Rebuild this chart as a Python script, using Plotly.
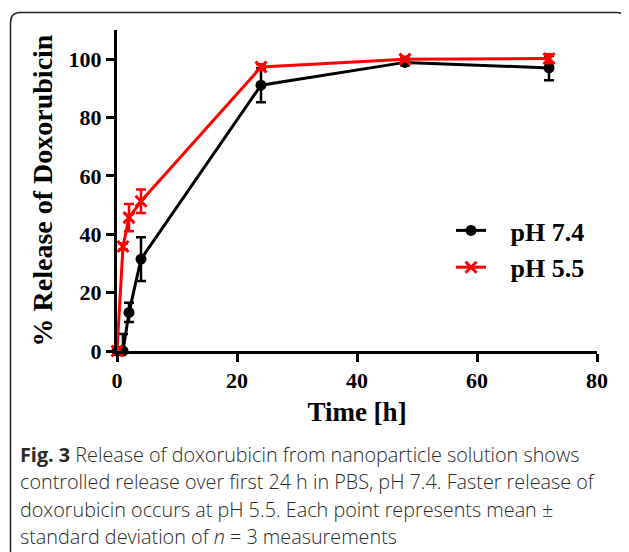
import plotly.graph_objects as go

# Data
time_h = [0, 1, 2, 4, 24, 48, 72]
ph74_mean = [0, 0, 13.2, 31.5, 91.1, 98.9, 97.0]
ph74_sd = [0, 5.8, 3.3, 7.5, 5.9, 1.0, 4.2]
ph55_mean = [0, 35.8, 45.7, 51.3, 97.3, 100.0, 100.2]
ph55_sd = [0, 1.0, 4.7, 4.0, 1.0, 0.8, 1.5]
series_names = ["pH 7.4", "pH 5.5"]
x_ticks = [0, 20, 40, 60, 80]
y_ticks = [0, 20, 40, 60, 80, 100]

caption_lines = [
    "<b>Fig. 3</b> Release of doxorubicin from nanoparticle solution shows",
    "controlled release over first 24 h in PBS, pH 7.4. Faster release of",
    "doxorubicin occurs at pH 5.5. Each point represents mean ±",
    "standard deviation of <i>n</i> = 3 measurements",
]

# page body has an 8px margin: work in window pixels, shift into figure pixels
OFF = 8
W, H = 629 - OFF, 552 - OFF
L, T = 117 - OFF, 30 - OFF
R = W - (597 - OFF)
B = H - (351 - OFF)
pw, ph = W - L - R, H - T - B

def px(x):
    return (x - OFF - L) / pw

def py(y):
    return (H - B - (y - OFF)) / ph

serif = "Liberation Serif, Times New Roman, serif"
pad = "\u00a0\u00a0\u00a0"

fig = go.Figure()
fig.add_trace(go.Scatter(
    x=time_h, y=ph74_mean, name=pad + series_names[0], mode="lines+markers",
    line=dict(color="black", width=3),
    marker=dict(symbol="circle", size=11, color="black"),
    error_y=dict(type="data", array=ph74_sd, visible=True, color="black", thickness=2.5, width=5),
    cliponaxis=False,
))
fig.add_trace(go.Scatter(
    x=time_h, y=ph55_mean, name=pad + series_names[1], mode="lines+markers",
    line=dict(color="#ff0000", width=3),
    marker=dict(symbol="x-thin", size=11, color="#ff0000", line=dict(color="#ff0000", width=3)),
    error_y=dict(type="data", array=ph55_sd, visible=True, color="#ff0000", thickness=2.5, width=5),
    cliponaxis=False,
))

fig.update_xaxes(
    range=[0, 80], tickvals=x_ticks, showgrid=False, zeroline=False,
    showline=True, linecolor="black", linewidth=3, ticks="outside", ticklen=8, tickwidth=3,
    tickcolor="black", tickfont=dict(family=serif, size=22, color="black", weight="bold"),
    title=dict(text="<b>Time [h]</b>", font=dict(family=serif, size=27, color="black"), standoff=10),
    automargin=False,
)
fig.update_yaxes(
    range=[0, 110], tickvals=y_ticks, showgrid=False, zeroline=False,
    showline=True, linecolor="black", linewidth=3, ticks="outside", ticklen=8, tickwidth=3,
    tickcolor="black", tickfont=dict(family=serif, size=22, color="black", weight="bold"),
    title=dict(text="<b>% Release of Doxorubicin</b>", font=dict(family=serif, size=28, color="black"), standoff=8),
    automargin=False,
)

# rounded frame
r = 10
x0, x1, y0, y1 = 10.5, 626.5, 12.5, 570
path = (f"M {px(x0)},{py(y1)} L {px(x0)},{py(y0 + r)} "
        f"Q {px(x0)},{py(y0)} {px(x0 + r)},{py(y0)} "
        f"L {px(x1 - r)},{py(y0)} Q {px(x1)},{py(y0)} {px(x1)},{py(y0 + r)} "
        f"L {px(x1)},{py(y1)}")
fig.add_shape(type="path", path=path, xref="paper", yref="paper",
              line=dict(color="#222222", width=1.5), layer="below")

for i, line in enumerate(caption_lines):
    fig.add_annotation(
        text=line, xref="paper", yref="paper", x=px(18), y=py(454 + i * 27.5),
        xanchor="left", yanchor="middle", showarrow=False, align="left",
        font=dict(family="Open Sans, sans-serif", size=19.8, color="#2a2a2a", weight=300),
    )

fig.update_layout(
    width=W, height=H, margin=dict(l=L, r=R, t=T, b=B, autoexpand=False),
    paper_bgcolor="white", plot_bgcolor="white",
    legend=dict(x=px(451), y=py(207), xanchor="left", yanchor="top",
                font=dict(family=serif, size=26, color="black", weight="bold"),
                bgcolor="rgba(0,0,0,0)", itemwidth=30),
    showlegend=True,
)

fig.write_html("out.html")
